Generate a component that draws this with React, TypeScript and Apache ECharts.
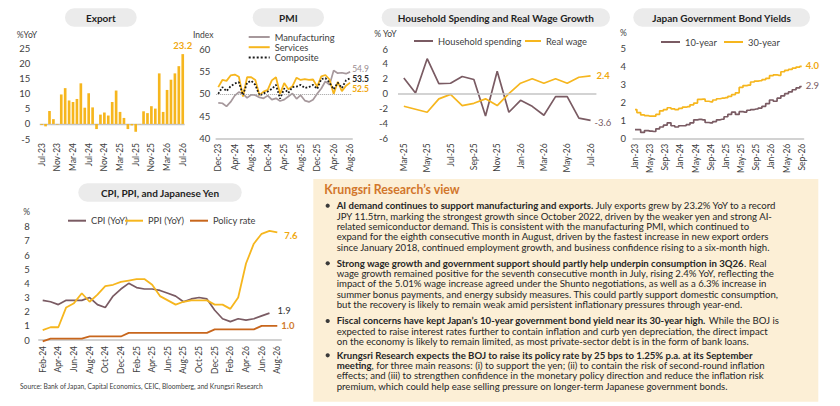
import React, { useEffect, useRef } from "react";
import * as echarts from "echarts";

// ---------------- DATA ----------------
const exportMonths = ["Jul-23","Aug-23","Sep-23","Oct-23","Nov-23","Dec-23","Jan-24","Feb-24","Mar-24","Apr-24","May-24","Jun-24","Jul-24","Aug-24","Sep-24","Oct-24","Nov-24","Dec-24","Jan-25","Feb-25","Mar-25","Apr-25","May-25","Jun-25","Jul-25","Aug-25","Sep-25","Oct-25","Nov-25","Dec-25","Jan-26","Feb-26","Mar-26","Apr-26","May-26","Jun-26","Jul-26"];
const exportYoY = [-0.3,-0.8,4.3,1.6,-0.2,9.8,11.9,7.8,7.3,8.3,13.5,5.4,10.2,5.5,-1.7,3.1,3.8,2.8,7.3,11.1,4.0,2.0,-1.7,-0.5,-2.6,-0.1,4.2,3.6,5.9,5.1,16.8,4.0,11.3,14.7,16.8,19.2,23.2];

const pmiMonths = ["Dec-23","Jan-24","Feb-24","Mar-24","Apr-24","May-24","Jun-24","Jul-24","Aug-24","Sep-24","Oct-24","Nov-24","Dec-24","Jan-25","Feb-25","Mar-25","Apr-25","May-25","Jun-25","Jul-25","Aug-25","Sep-25","Oct-25","Nov-25","Dec-25","Jan-26","Feb-26","Mar-26","Apr-26","May-26","Jun-26","Jul-26","Aug-26"];
const pmiManufacturing = [48.0,47.9,47.2,48.2,49.6,50.4,50.0,49.1,49.8,49.7,49.2,49.0,49.6,48.7,49.0,48.4,48.7,49.4,50.1,48.9,49.7,48.5,48.2,48.7,50.0,51.2,52.8,52.0,55.2,54.6,54.7,54.5,54.9];
const pmiServices = [51.5,53.1,52.9,54.1,54.3,53.8,49.4,53.7,53.7,53.1,49.7,50.5,50.9,53.0,53.7,50.0,52.4,51.0,51.7,53.6,53.1,53.3,53.1,53.2,51.6,53.9,54.2,53.2,50.0,52.7,50.6,51.8,52.5];
const pmiComposite = [50.0,51.5,50.6,51.7,52.3,52.6,49.7,52.5,52.9,52.0,49.6,50.1,50.5,51.1,52.0,48.9,51.2,50.2,51.5,51.6,52.0,51.3,51.5,52.0,51.1,53.3,53.5,52.5,51.0,52.5,51.3,53.0,53.5];

const hhMonths = ["Mar-25","Apr-25","May-25","Jun-25","Jul-25","Aug-25","Sep-25","Oct-25","Nov-25","Dec-25","Jan-26","Feb-26","Mar-26","Apr-26","May-26","Jun-26","Jul-26"];
const hhSpending = [2.1,0.1,4.7,1.35,1.4,2.3,1.9,-3.0,3.0,-2.5,-0.9,-1.7,-2.9,-0.4,-0.4,-3.3,-3.6];
const realWage = [-1.7,-2.1,-2.5,-0.7,-0.1,-1.6,-1.3,-0.7,-1.6,0.0,1.4,2.0,1.4,2.0,1.4,2.2,2.4];

const jgbMonths = ["Jan-23","Feb-23","Mar-23","Apr-23","May-23","Jun-23","Jul-23","Aug-23","Sep-23","Oct-23","Nov-23","Dec-23","Jan-24","Feb-24","Mar-24","Apr-24","May-24","Jun-24","Jul-24","Aug-24","Sep-24","Oct-24","Nov-24","Dec-24","Jan-25","Feb-25","Mar-25","Apr-25","May-25","Jun-25","Jul-25","Aug-25","Sep-25","Oct-25","Nov-25","Dec-25","Jan-26","Feb-26","Mar-26","Apr-26","May-26","Jun-26","Jul-26","Aug-26","Sep-26"];
const jgb10y = [0.5,0.5,0.35,0.45,0.42,0.4,0.55,0.65,0.75,0.88,0.72,0.65,0.72,0.72,0.78,0.88,1.05,1.07,1.05,0.9,0.88,0.95,1.05,1.08,1.22,1.35,1.48,1.35,1.5,1.48,1.58,1.62,1.65,1.7,1.8,1.95,2.15,2.08,2.25,2.38,2.5,2.6,2.72,2.82,2.9];
const jgb30y = [1.62,1.45,1.32,1.28,1.25,1.25,1.35,1.55,1.62,1.72,1.66,1.62,1.68,1.75,1.78,1.88,1.98,2.18,2.2,2.08,2.05,2.15,2.22,2.25,2.28,2.35,2.45,2.55,2.85,2.95,2.98,3.15,3.2,3.22,3.28,3.35,3.5,3.55,3.52,3.72,3.8,3.85,3.92,3.98,4.02];

const cpiMonths = ["Feb-24","Mar-24","Apr-24","May-24","Jun-24","Jul-24","Aug-24","Sep-24","Oct-24","Nov-24","Dec-24","Jan-25","Feb-25","Mar-25","Apr-25","May-25","Jun-25","Jul-25","Aug-25","Sep-25","Oct-25","Nov-25","Dec-25","Jan-26","Feb-26","Mar-26","Apr-26","May-26","Jun-26","Jul-26","Aug-26"];
const cpiYoY = [2.8,2.7,2.5,2.8,2.8,2.8,3.0,2.5,2.3,3.1,3.6,4.0,3.7,3.6,3.6,3.5,3.3,3.1,2.7,2.9,3.0,2.9,2.1,1.5,1.3,1.5,1.4,1.5,1.7,1.9];
const ppiYoY = [0.7,0.9,0.9,2.3,2.6,3.3,2.7,3.2,3.8,3.9,4.1,4.2,4.3,4.3,3.9,3.1,2.8,2.5,2.7,2.8,2.8,2.8,2.5,2.5,2.2,3.0,5.4,6.8,7.5,7.7,7.6];
const policyRate = [-0.1,0.1,0.1,0.1,0.1,0.1,0.25,0.25,0.25,0.25,0.25,0.5,0.5,0.5,0.5,0.5,0.5,0.5,0.5,0.5,0.5,0.5,0.75,0.75,0.75,0.75,0.75,0.75,1.0,1.0,1.0];

const bulletLines = [
  [
    "{b|AI demand continues to support manufacturing and exports.} July exports grew by 23.2% YoY to a record",
    "JPY 11.5trn, marking the strongest growth since October 2022, driven by the weaker yen and strong AI-",
    "related semiconductor demand. This is consistent with the manufacturing PMI, which continued to",
    "expand for the eighth consecutive month in August, driven by the fastest increase in new export orders",
    "since January 2018, continued employment growth, and business confidence rising to a six-month high.",
  ],
  [
    "{b|Strong wage growth and government support should partly help underpin consumption in 3Q26}. Real",
    "wage growth remained positive for the seventh consecutive month in July, rising 2.4% YoY, reflecting the",
    "impact of the 5.01% wage increase agreed under the Shunto negotiations, as well as a 6.3% increase in",
    "summer bonus payments, and energy subsidy measures. This could partly support domestic consumption,",
    "but the recovery is likely to remain weak amid persistent inflationary pressures through year-end.",
  ],
  [
    "{b|Fiscal concerns have kept Japan\u2019s 10-year government bond yield near its 30-year high.} While the BOJ is",
    "expected to raise interest rates further to contain inflation and curb yen depreciation, the direct impact",
    "on the economy is likely to remain limited, as most private-sector debt is in the form of bank loans.",
  ],
  [
    "{b|Krungsri Research expects the BOJ to raise its policy rate by 25 bps to 1.25% p.a. at its September}",
    "{b|meeting}, for three main reasons: (i) to support the yen; (ii) to contain the risk of second-round inflation",
    "effects; and (iii) to strengthen confidence in the monetary policy direction and reduce the inflation risk",
    "premium, which could help ease selling pressure on longer-term Japanese government bonds.",
  ],
];
const bulletTops = [200.5, 258.1, 315.8, 350.1];

// ---------------- STYLE ----------------
const FONT = "Lato, 'Noto Sans', sans-serif";
const TXT = "#404040";
const MAUVE = "#7A5B63";
const LMAUVE = "#A6989C";
const GOLD = "#F6B61E";
const GOLDTXT = "#F0A810";
const ORANGE = "#C8661C";
const GRAYLINE = "#C4C4C4";

const grids = [
  { left: 39.7, top: 48.7, width: 145, height: 90.3 },
  { left: 216.2, top: 49, width: 136, height: 89.7 },
  { left: 398, top: 49, width: 198.4, height: 89.3 },
  { left: 633.1, top: 48.7, width: 170.5, height: 90 },
  { left: 38.8, top: 226.7, width: 242.4, height: 113.3 },
];

function xAx(gridIndex: number, data: string[], interval: number, showLine: boolean, margin: number) {
  return {
    type: "category", gridIndex, data, boundaryGap: true,
    axisLine: { show: showLine, onZero: false, lineStyle: { color: GRAYLINE, width: 1.6 } },
    axisTick: { show: false },
    splitLine: { show: false },
    axisLabel: { interval, rotate: 90, fontSize: 8.5, color: TXT, fontFamily: FONT, margin },
  };
}
function yAx(gridIndex: number, min: number, max: number, interval: number, margin: number) {
  return {
    type: "value", gridIndex, min, max, interval,
    axisLine: { show: false }, axisTick: { show: false }, splitLine: { show: false },
    axisLabel: { fontSize: 9.5, color: TXT, fontFamily: FONT, margin },
  };
}
function endLbl(color: string, bold: boolean, distance: number, dy: number, size = 9.5) {
  return {
    show: true, color, fontSize: size, lineHeight: size, fontFamily: FONT, fontWeight: bold ? "bold" : "normal",
    distance, offset: [0, dy], formatter: (p: any) => Number(p.value).toFixed(1),
  };
}
function pill(x: number, y: number, w: number, h: number, label: string) {
  return [
    { type: "rect", shape: { x, y, width: w, height: h, r: h / 2 }, style: { fill: "#EBEBEB" }, z: 1 },
    { type: "text", x: x + w / 2, y: y + h / 2, z: 2,
      style: { text: label, fontSize: 10, fontWeight: "bold", fontFamily: FONT, fill: "#1f1f1f",
        align: "center", verticalAlign: "middle", textAlign: "center", textVerticalAlign: "middle" } },
  ];
}
function txt(x: number, y: number, text: string, size: number, color = TXT, align = "left") {
  return { type: "text", x, y, z: 3,
    style: { text, fontSize: size, fontFamily: FONT, fill: color, align, verticalAlign: "middle",
      textAlign: align, textVerticalAlign: "middle" } };
}

const legendText = { fontSize: 9.3, color: TXT, fontFamily: FONT, lineHeight: 10 };
function leg(left: number, top: number, name: string, w = 19) {
  return { orient: "horizontal", left, top, padding: 0, itemWidth: w, itemHeight: 10, itemGap: 0,
    itemStyle: { opacity: 0 }, data: [name], textStyle: legendText, selectedMode: false };
}

export default function App() {
  const ref = useRef<HTMLDivElement>(null);
  useEffect(() => {
    if (!ref.current) return;
    const chart = echarts.init(ref.current, undefined, { renderer: "svg" });
    const lastExp = exportYoY.length - 1;

    const graphic: any[] = [
      ...pill(65, 8.3, 71.7, 18.4, "Export"),
      ...pill(252.7, 8.3, 71.3, 18.4, "PMI"),
      ...pill(381.7, 8.3, 228.3, 18.4, "Household Spending and Real Wage Growth"),
      ...pill(633.3, 8.3, 176.7, 18.4, "Japan Government Bond Yields"),
      ...pill(78.3, 183.3, 163.4, 18.4, "CPI, PPI, and Japanese Yen"),
      txt(16.7, 34.5, "%YoY", 8.5),
      txt(193, 34.5, "Index", 8.5),
      txt(374.3, 34.3, "% YoY", 8.5),
      txt(620, 33.3, "%", 8.5),
      txt(23.3, 212.3, "%", 8.5),
      txt(20, 385.7, "Source: Bank of Japan, Capital Economics, CEIC, Bloomberg, and Krungsri Research", 6.7),
      { type: "rect", shape: { x: 313.3, y: 179, width: 505, height: 222.7 }, style: { fill: "#FCEFD6" }, z: 0 },
      { type: "text", x: 324.3, y: 189.3, z: 3,
        style: { text: "Krungsri Research\u2019s view", fontSize: 12.3, fontWeight: "bold", fontFamily: FONT,
          fill: "#D2762B", align: "left", verticalAlign: "middle", textAlign: "left", textVerticalAlign: "middle" } },
    ];
    bulletLines.forEach((lines, i) => {
      graphic.push({ type: "circle", shape: { cx: 327.7, cy: bulletTops[i] + 5.2, r: 2.1 }, style: { fill: "#3a3a3a" }, z: 3 });
      graphic.push({ type: "text", x: 336.7, y: bulletTops[i], z: 3,
        style: { text: lines.join("\n"), fontSize: 9.6, fontFamily: FONT, fill: "#262626", lineHeight: 10.35,
          align: "left", verticalAlign: "top", textAlign: "left", textVerticalAlign: "top",
          rich: { b: { fontSize: 9.6, fontWeight: "bold", fontFamily: FONT, fill: "#262626", lineHeight: 10.35 } } } });
    });

    const option: any = {
      animation: false,
      backgroundColor: "#ffffff",
      textStyle: { fontFamily: FONT },
      grid: grids,
      xAxis: [
        xAx(0, exportMonths, 3, false, 4),
        xAx(1, pmiMonths, 3, true, 5),
        xAx(2, hhMonths, 1, false, 5),
        xAx(3, jgbMonths, 3, true, 5),
        xAx(4, cpiMonths, 1, true, 6),
      ],
      yAxis: [
        yAx(0, -5, 25, 5, 9.5),
        yAx(1, 40, 60, 5, 6),
        yAx(2, -6, 6, 2, 10),
        yAx(3, 0, 5, 1, 7),
        yAx(4, 0, 8, 1, 9),
      ],
      legend: [
        { orient: "vertical", left: 247.7, top: 32, padding: 0, itemWidth: 21, itemHeight: 10, itemGap: 0.2,
          itemStyle: { opacity: 0 }, selectedMode: false,
          data: ["Manufacturing", "Services", "Composite"], textStyle: legendText },
        leg(413, 36, "Household spending"),
        leg(524, 36, "Real wage", 16),
        leg(660, 37, "10-year"),
        leg(723, 37, "30-year"),
        leg(67, 215.7, "CPI (YoY)", 18),
        leg(124, 215.7, "PPI (YoY)", 18),
        leg(189, 215.7, "Policy rate", 18),
      ],
      graphic: { elements: graphic },
      series: [
        { name: "Export", type: "bar", xAxisIndex: 0, yAxisIndex: 0, barCategoryGap: "32%",
          itemStyle: { color: GOLD },
          data: exportYoY.map((v, i) => i === lastExp
            ? { value: v, label: { show: true, position: "top", distance: 4, color: GOLDTXT, fontWeight: "bold",
                fontSize: 9.5, fontFamily: FONT, formatter: (p: any) => Number(p.value).toFixed(1) } }
            : v),
          markLine: { silent: true, symbol: "none", label: { show: false }, z: 1,
            lineStyle: { color: GRAYLINE, type: "solid", width: 1.3 }, data: [{ yAxis: 0 }] } },

        { name: "Manufacturing", type: "line", xAxisIndex: 1, yAxisIndex: 1, data: pmiManufacturing,
          symbol: "none", lineStyle: { color: LMAUVE, width: 1.7 }, itemStyle: { color: LMAUVE },
          endLabel: endLbl("#9A8C90", false, 2, -3.1, 8.5),
          markLine: { silent: true, symbol: "none", label: { show: false },
            lineStyle: { color: "#A0A0A0", type: "dotted", width: 1 }, data: [{ yAxis: 50 }] } },
        { name: "Services", type: "line", xAxisIndex: 1, yAxisIndex: 1, data: pmiServices,
          symbol: "none", lineStyle: { color: GOLD, width: 1.8 }, itemStyle: { color: GOLD },
          endLabel: endLbl(GOLDTXT, true, 2, 6.1, 8.5) },
        { name: "Composite", type: "line", xAxisIndex: 1, yAxisIndex: 1, data: pmiComposite,
          symbol: "none", lineStyle: { color: "#1a1a1a", width: 1.8, type: "dotted" }, itemStyle: { color: "#1a1a1a" },
          endLabel: endLbl("#262626", true, 2, 0.6, 8.5) },

        { name: "Household spending", type: "line", xAxisIndex: 2, yAxisIndex: 2, data: hhSpending,
          symbol: "none", lineStyle: { color: MAUVE, width: 1.7 }, itemStyle: { color: MAUVE },
          endLabel: endLbl(MAUVE, false, 4, 2),
          markLine: { silent: true, symbol: "none", label: { show: false },
            lineStyle: { color: GRAYLINE, type: "solid", width: 1.6 }, data: [{ yAxis: 0 }] } },
        { name: "Real wage", type: "line", xAxisIndex: 2, yAxisIndex: 2, data: realWage,
          symbol: "none", lineStyle: { color: GOLD, width: 1.7 }, itemStyle: { color: GOLD },
          endLabel: endLbl(GOLDTXT, true, 6, 0) },

        { name: "10-year", type: "line", xAxisIndex: 3, yAxisIndex: 3, data: jgb10y, step: "middle",
          symbol: "none", lineStyle: { color: MAUVE, width: 1.7 }, itemStyle: { color: MAUVE },
          endLabel: endLbl(MAUVE, false, 4, -1) },
        { name: "30-year", type: "line", xAxisIndex: 3, yAxisIndex: 3, data: jgb30y, step: "middle",
          symbol: "none", lineStyle: { color: GOLD, width: 1.7 }, itemStyle: { color: GOLD },
          endLabel: endLbl(GOLDTXT, true, 4, -1) },

        { name: "CPI (YoY)", type: "line", xAxisIndex: 4, yAxisIndex: 4, data: cpiYoY,
          symbol: "none", lineStyle: { color: MAUVE, width: 1.7 }, itemStyle: { color: MAUVE },
          endLabel: endLbl("#333333", false, 8, -3) },
        { name: "PPI (YoY)", type: "line", xAxisIndex: 4, yAxisIndex: 4, data: ppiYoY,
          symbol: "none", lineStyle: { color: GOLD, width: 1.8 }, itemStyle: { color: GOLD },
          endLabel: endLbl(GOLDTXT, true, 7, 3) },
        { name: "Policy rate", type: "line", xAxisIndex: 4, yAxisIndex: 4, data: policyRate, clip: false,
          symbol: "none", lineStyle: { color: ORANGE, width: 1.8 }, itemStyle: { color: ORANGE },
          endLabel: endLbl("#D07A2E", true, 4, 0) },
      ],
    };
    chart.setOption(option);
    return () => chart.dispose();
  }, []);
  return (
    <div ref={ref} style={{ position: "absolute", left: 0, top: 0, width: 840, height: 406, background: "#fff" }} />
  );
}
